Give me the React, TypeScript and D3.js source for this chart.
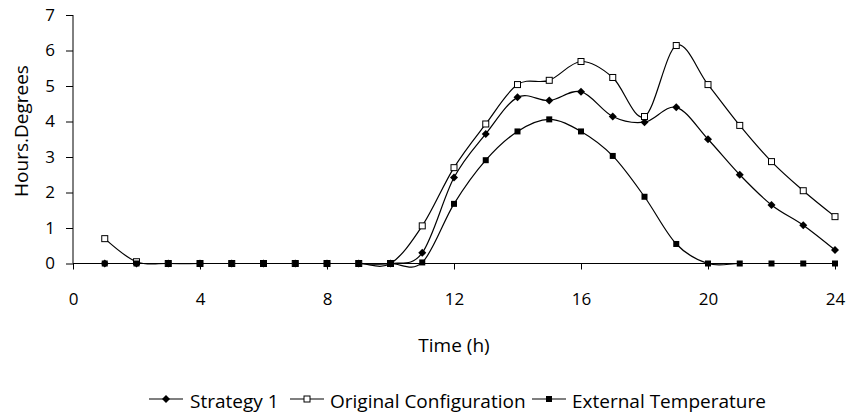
import React, { useRef, useEffect } from "react";
import * as d3 from "d3";

const hours = [1, 2, 3, 4, 5, 6, 7, 8, 9, 10, 11, 12, 13, 14, 15, 16, 17, 18, 19, 20, 21, 22, 23, 24];
const strategy1 = [0, 0, 0, 0, 0, 0, 0, 0, 0, 0, 0.3, 2.42, 3.65, 4.68, 4.59, 4.84, 4.14, 3.98, 4.4, 3.5, 2.5, 1.65, 1.08, 0.38];
const originalConfig = [0.7, 0.05, 0, 0, 0, 0, 0, 0, 0, 0, 1.06, 2.7, 3.93, 5.04, 5.16, 5.69, 5.24, 4.14, 6.14, 5.04, 3.89, 2.87, 2.05, 1.32];
const externalTemp = [0, 0, 0, 0, 0, 0, 0, 0, 0, 0, 0.03, 1.68, 2.91, 3.72, 4.06, 3.72, 3.03, 1.88, 0.55, 0, 0, 0, 0, 0];
const xTicks = [0, 4, 8, 12, 16, 20, 24];
const yTicks = [0, 1, 2, 3, 4, 5, 6, 7];
const seriesNames = ["Strategy 1", "Original Configuration", "External Temperature"];

const font = "'Open Sans', 'DejaVu Sans', sans-serif";

const App = () => {
  const svgRef = useRef<SVGSVGElement>(null);

  useEffect(() => {
    const svg = d3.select(svgRef.current);
    svg.selectAll("*").remove();

    const left = 73;
    const right = 835;
    const top = 15;
    const bottom = 263.5;

    const x = d3.scaleLinear().domain([0, 24]).range([left, right]);
    const y = d3.scaleLinear().domain([0, 7]).range([bottom, top]);

    // y axis
    const yAxis = svg
      .append("g")
      .attr("transform", `translate(${left},0)`)
      .call(
        d3.axisLeft(y).tickValues(yTicks).tickFormat(d3.format("d")).tickSize(7).tickPadding(11)
      );
    // x axis
    const xAxis = svg
      .append("g")
      .attr("transform", `translate(0,${bottom})`)
      .call(d3.axisBottom(x).tickValues(xTicks).tickFormat(d3.format("d")).tickSize(6).tickPadding(23));
    [yAxis, xAxis].forEach((g) => {
      g.select(".domain").attr("stroke", "#000");
      g.selectAll(".tick line").attr("stroke", "#000");
      g.selectAll("text")
        .attr("font-family", font)
        .attr("font-size", 17)
        .attr("fill", "#000");
    });
    yAxis.select(".domain").attr("d", `M0,${bottom}V${top}`);
    xAxis.select(".domain").attr("d", `M${left},0H${right}`);

    const series = [
      { name: seriesNames[0], values: strategy1, marker: "diamond" },
      { name: seriesNames[1], values: originalConfig, marker: "open" },
      { name: seriesNames[2], values: externalTemp, marker: "filled" },
    ];

    const line = d3
      .line<number>()
      .x((d, i) => x(hours[i]))
      .y((d) => y(d))
      .curve(d3.curveCardinal.tension(0));

    const drawMarker = (g: any, type: string, cx: number, cy: number) => {
      if (type === "diamond") {
        g.append("path")
          .attr("d", `M${cx},${cy - 4}L${cx + 4},${cy}L${cx},${cy + 4}L${cx - 4},${cy}Z`)
          .attr("fill", "#000");
      } else if (type === "open") {
        g.append("rect")
          .attr("x", cx - 3)
          .attr("y", cy - 3)
          .attr("width", 6)
          .attr("height", 6)
          .attr("fill", "#fff")
          .attr("stroke", "#000")
          .attr("stroke-width", 1);
      } else {
        g.append("rect")
          .attr("x", cx - 3)
          .attr("y", cy - 3)
          .attr("width", 6)
          .attr("height", 6)
          .attr("fill", "#000");
      }
    };

    series.forEach((s) => {
      svg
        .append("path")
        .datum(s.values)
        .attr("fill", "none")
        .attr("stroke", "#000")
        .attr("stroke-width", 1.2)
        .attr("d", line);
    });
    series.forEach((s) => {
      const g = svg.append("g");
      s.values.forEach((v, i) => drawMarker(g, s.marker, x(hours[i]), y(v)));
    });

    // axis titles
    svg
      .append("text")
      .attr("x", 454)
      .attr("y", 352)
      .attr("text-anchor", "middle")
      .attr("font-family", font)
      .attr("font-size", 19)
      .text("Time (h)");
    svg
      .append("text")
      .attr("transform", `translate(28,131) rotate(-90)`)
      .attr("text-anchor", "middle")
      .attr("font-family", font)
      .attr("font-size", 19)
      .text("Hours.Degrees");

    // legend
    const legendY = 399;
    const legendPos = [
      { lx: 149, tx: 190 },
      { lx: 290, tx: 330 },
      { lx: 532, tx: 572 },
    ];
    series.forEach((s, i) => {
      const g = svg.append("g");
      const p = legendPos[i];
      const lineLen = 34;
      g.append("line")
        .attr("x1", p.lx)
        .attr("x2", p.lx + lineLen)
        .attr("y1", legendY)
        .attr("y2", legendY)
        .attr("stroke", "#000")
        .attr("stroke-width", 1.2);
      drawMarker(g, s.marker, p.lx + lineLen / 2, legendY);
      g.append("text")
        .attr("x", p.tx)
        .attr("y", 408)
        .attr("font-family", font)
        .attr("font-size", 19)
        .text(s.name);
    });
  }, []);

  return (
    <svg
      ref={svgRef}
      width={851}
      height={418}
      style={{ position: "absolute", left: 0, top: 0, background: "#fff" }}
    ></svg>
  );
};

export default App;
